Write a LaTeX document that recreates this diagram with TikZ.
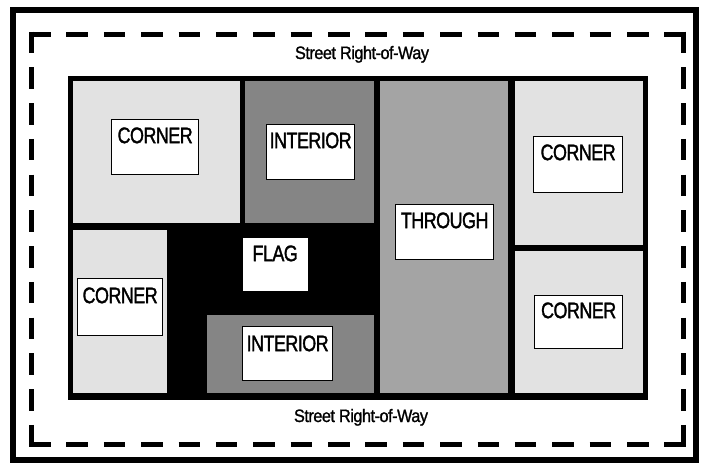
\documentclass[tikz,border=0pt]{standalone}
\usepackage{fontspec}
\setmainfont{Liberation Sans}
\newfontfamily\lotfont{Liberation Sans}[FakeStretch=0.8,LetterSpace=-2.5,FakeBold=1.4]
\newfontfamily\streetfont{Liberation Sans}[FakeStretch=0.9,LetterSpace=-2.5,FakeBold=1.2]
\definecolor{cornergray}{HTML}{E2E2E2}
\definecolor{intergray}{HTML}{858585}
\definecolor{throughgray}{HTML}{A4A4A4}
\tikzset{
  lot/.style={inner sep=0pt, draw=none, anchor=north west},
  lbl/.style={inner xsep=0pt, inner ysep=0pt, anchor=north west, fill=white, draw=black, line width=1.3pt,
    font=\lotfont\fontsize{22.5}{23}\selectfont, text height=23.5pt},
  street/.style={inner sep=0pt, anchor=base, font=\streetfont\fontsize{18}{19}\selectfont},
  dashside/.style={line width=5pt}
}
\begin{document}
\begin{tikzpicture}[x=1pt,y=-1pt]
\useasboundingbox (0,0) rectangle (705,464);
\fill[white] (0,0) rectangle (705,464);
% outer frame
\draw[line width=6pt] (12.5,9.5) rectangle (696,459.5);
% street right-of-way dashed boundary
\draw[dashside, dash pattern=on 21.5pt off 15.88pt] (29,34) -- (686,34);
\draw[dashside, dash pattern=on 21.5pt off 15.88pt] (29,444) -- (686,444);
\draw[dashside, dash pattern=on 21.5pt off 14.27pt] (31.5,31.5) -- (31.5,446.5);
\draw[dashside, dash pattern=on 21.5pt off 14.27pt] (683.5,31.5) -- (683.5,446.5);
% street labels
\node[street] (srtop) at (362,59) {Street Right-of-Way};
\node[street] (srbot) at (361,422) {Street Right-of-Way};
% block (black) and lots
\node[lot, fill=black, minimum width=580pt, minimum height=324pt] (block) at (68,76) {};
\node[lot, fill=cornergray, minimum width=167pt, minimum height=142pt] (lotA) at (73,81) {};
\node[lot, fill=intergray, minimum width=129pt, minimum height=142pt] (lotB) at (245,81) {};
\node[lot, fill=throughgray, minimum width=128pt, minimum height=312pt] (lotC) at (380,81) {};
\node[lot, fill=cornergray, minimum width=128pt, minimum height=164pt] (lotD) at (515,81) {};
\node[lot, fill=cornergray, minimum width=128pt, minimum height=142pt] (lotE) at (515,251) {};
\node[lot, fill=cornergray, minimum width=94pt, minimum height=163pt] (lotF) at (73,230) {};
\node[lot, fill=intergray, minimum width=167pt, minimum height=78pt] (lotG) at (207,315) {};
% labels
\node[lbl, minimum width=87pt, minimum height=55pt, text depth=31.5pt] (c1) at (111,119) {CORNER};
\node[lbl, minimum width=88pt, minimum height=55pt, text depth=31.5pt] (i1) at (266,124) {INTERIOR};
\node[lbl, minimum width=98pt, minimum height=55pt, text depth=31.5pt] (th) at (395,204) {THROUGH};
\node[lbl, minimum width=89pt, minimum height=56pt, text depth=32.5pt] (c2) at (533,136) {CORNER};
\node[lbl, minimum width=85pt, minimum height=57pt, text depth=32.5pt, text height=24.5pt] (c3) at (77,278) {CORNER};
\node[lbl, draw=none, minimum width=65pt, minimum height=53pt, text depth=29.5pt] (fl) at (242,237) {FLAG};
\node[lbl, minimum width=90pt, minimum height=54pt, text depth=29.5pt, text height=24.5pt] (i2) at (242,326) {INTERIOR};
\node[lbl, minimum width=88pt, minimum height=53pt, text depth=30.5pt, text height=22.5pt] (c4) at (534,295) {CORNER};
\end{tikzpicture}
\end{document}
